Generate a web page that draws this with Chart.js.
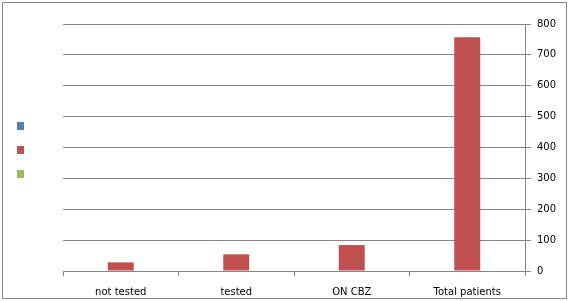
<!DOCTYPE html>
<html>
<head>
<meta charset="utf-8">
<script src="https://cdn.jsdelivr.net/npm/chart.js@4/dist/chart.umd.min.js"></script>
<style>
html,body{margin:0;padding:0;background:#fff;}
#wrap{width:569px;height:301px;position:relative;}
</style>
</head>
<body>
<div id="wrap"><canvas id="c" width="569" height="301"></canvas></div>
<script>
const categories = ['not tested', 'tested', 'ON CBZ', 'Total patients'];
const seriesBlue = [null, null, null, null];
const seriesRed = [28, 54, 84, 757];
const seriesGreen = [null, null, null, null];
const yTicks = [0, 100, 200, 300, 400, 500, 600, 700, 800];

const colors = ['#4F81BD', '#C0504D', '#9BBB59'];
const gridColor = '#868686';

const frame = {
  id: 'frame',
  afterDraw(chart) {
    const ctx = chart.ctx;
    ctx.save();
    ctx.strokeStyle = '#868686';
    ctx.lineWidth = 1;
    ctx.strokeRect(2.5, 2.5, 564, 296);
    // legend markers (left), colours from the datasets
    chart.data.datasets.forEach((ds, i) => {
      ctx.fillStyle = ds.backgroundColor;
      ctx.fillRect(17, 122 + i * 24, 7, 8);
    });
    ctx.restore();
  }
};

new Chart(document.getElementById('c'), {
  type: 'bar',
  data: {
    labels: categories,
    datasets: [
      { label: '', data: seriesBlue, backgroundColor: colors[0] },
      { label: '', data: seriesRed, backgroundColor: colors[1] },
      { label: '', data: seriesGreen, backgroundColor: colors[2] }
    ]
  },
  options: {
    responsive: false,
    animation: false,
    events: [],
    layout: { padding: { left: 63, top: 24, right: 0, bottom: 0 } },
    categoryPercentage: 0.675,
    barPercentage: 1,
    plugins: { legend: { display: false }, tooltip: { enabled: false } },
    scales: {
      x: {
        offset: true,
        grid: { offset: true, drawOnChartArea: false, drawTicks: true, tickLength: 5, color: gridColor },
        border: { color: gridColor, width: 1 },
        ticks: { color: '#000', font: { family: 'DejaVu Sans', size: 10 }, padding: 10, maxRotation: 0 },
        afterFit(s) { s.height = 30; }
      },
      y: {
        position: 'right',
        min: 0, max: 800,
        afterBuildTicks(s) { s.ticks = yTicks.map(v => ({ value: v })); },
        grid: { color: gridColor, drawTicks: true, tickLength: 6 },
        border: { color: gridColor, width: 1 },
        ticks: { color: '#000', font: { family: 'DejaVu Sans', size: 10 }, padding: 6 },
        afterFit(s) { s.width = 44; }
      }
    }
  },
  plugins: [frame]
});
</script>
</body>
</html>
